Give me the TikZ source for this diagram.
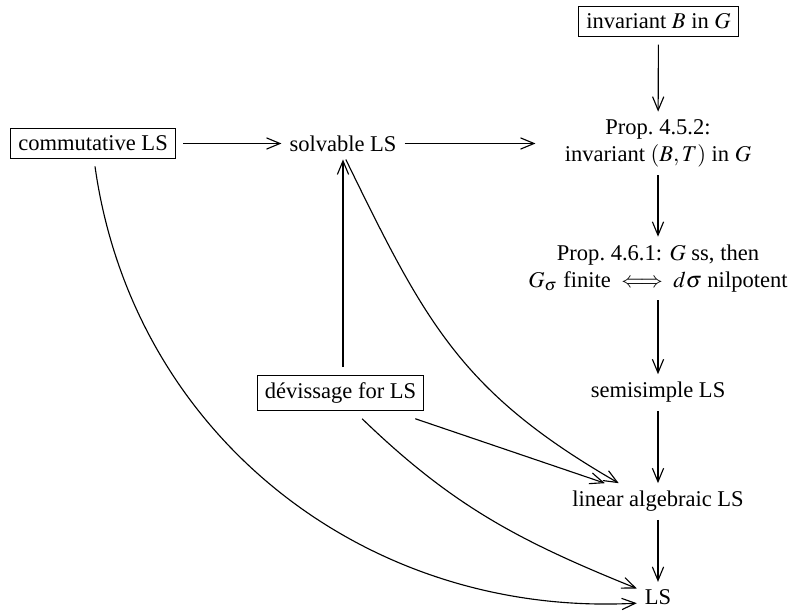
\documentclass[tikz,border=0pt]{standalone}
\usepackage{mathptmx}
\usepackage[no-math]{fontspec}
\setmainfont{Liberation Serif}
\usetikzlibrary{arrows.meta}
\begin{document}
\begin{tikzpicture}[x=0.444pt,y=0.444pt,
  >={Straight Barb[length=6pt,width=5pt]},
  line width=0.5pt,
  boxnode/.style={draw, line width=0.5pt, outer sep=3.5pt},
  plainnode/.style={align=center},
  arr/.style={->}]
\useasboundingbox (0,0) rectangle (802,-612);
% nodes
\node[boxnode]   (inv)  at (658.5,-21.5) {invariant $B$ in $G$};
\node[plainnode] (p452) at (658,-143.5) {Prop.~4.5.2:\\ invariant $(B,T)$ in $G$};
\node[plainnode] (p461) at (658,-268.5) {Prop.~4.6.1: $G$ ss, then\\ $G_\sigma$ finite $\iff$ $d\sigma$ nilpotent};
\node[plainnode] (ss)   at (658,-392.5) {semisimple LS};
\node[plainnode] (lin)  at (658,-501.5) {linear algebraic LS};
\node[plainnode] (ls)   at (658,-597.5) {LS};
\node[boxnode]   (comm) at (93,-143.5) {commutative LS};
\node[plainnode] (solv) at (343,-143.5) {solvable LS};
\node[boxnode]   (dev)  at (340.5,-393) {dévissage for LS};
% arrows
\draw[arr] (inv) -- (p452);
\draw[arr] (p452) -- (p461);
\draw[arr] (p461) -- (ss);
\draw[arr] (ss) -- (lin);
\draw[arr] (lin) -- (ls);
\draw[arr] (comm) -- (solv);
\draw[arr, shorten >=9.5pt] (solv) -- (solv -| p452.west);
\draw[arr] (dev.north -| solv) -- (solv);
\draw[arr] (solv.-80) to[out=-64, in=150, looseness=1.1] (lin.155);
\draw[arr] (dev.-19) -- (lin.161);
\draw[arr] (dev.-50) to[out=-44, in=158] (ls.157);
\draw[arr] (comm.-85) to[out=-82, in=183] (ls.195);
\end{tikzpicture}
\end{document}
